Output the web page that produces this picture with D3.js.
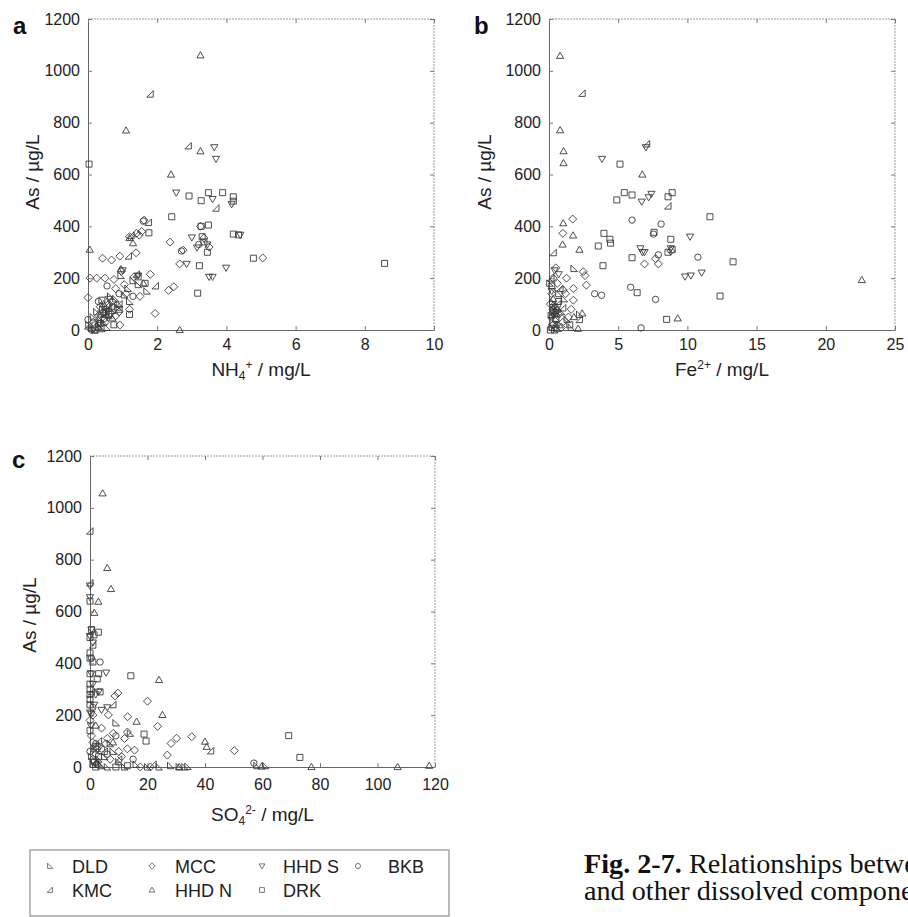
<!DOCTYPE html>
<html>
<head>
<meta charset="utf-8">
<script src="https://cdn.jsdelivr.net/npm/d3@7"></script>
<style>
  html, body { margin: 0; padding: 0; background: #fff; }
  svg { display: block; font-family: "Liberation Sans", Arial, sans-serif; }
</style>
</head>
<body>
<svg id="fig" width="908" height="917"></svg>
<script>
// ---- data: [x, As] pairs ----
const seriesNames = ["DLD", "KMC", "MCC", "HHD N", "HHD S", "DRK", "BKB"];

const asTicks = [0, 200, 400, 600, 800, 1000, 1200];
const nh4Ticks = [0, 2, 4, 6, 8, 10];
const feTicks = [0, 5, 10, 15, 20, 25];
const so4Ticks = [0, 20, 40, 60, 80, 100, 120];

// panel a : NH4+
const nh4DLD = [[0.02,20],[0.1,5],[0.2,0],[0.3,15],[0.35,40],[0.45,30],[0.55,10],[0.6,55],[0.25,70],[0.5,90],[0.7,75],[0.8,120],[0.9,100],[1.05,135],[1.15,160],[1.3,190],[1.45,175],[1.7,150],[0.95,210],[0.4,5],[0.15,50],[0.65,130],[1.2,110],[0.38,62],[0.42,80],[0.52,70],[0.85,88]];
const nh4KMC = [[1.8,910],[2.9,710],[3.7,470],[1.75,415],[1.17,285],[1.25,365],[1.95,170],[0.9,100],[0.5,60],[0.3,30],[0.6,85],[1.4,215],[0.0,15],[0.45,72],[0.55,95]];
const nh4MCC = [[5.05,278],[2.37,339],[2.75,308],[2.65,255],[1.62,424],[1.48,366],[1.39,298],[0.42,277],[0.68,270],[0.92,285],[0.06,200],[0.25,200],[0.49,200],[1.94,64],[0.0,125],[0.92,19],[3.35,355],[3.5,320],[3.25,400],[2.33,153],[2.48,167],[1.4,373],[1.55,380],[1.2,360],[0.97,227],[1.33,205],[1.8,215],[0.8,160],[1.1,140],[0.6,100],[0.35,90],[0.8,55],[1.2,80],[1.5,130],[0.1,0],[0.5,30],[1.05,175],[0.75,195],[0.3,55],[0.65,65],[0.9,70],[0.15,30],[0.7,110]];
const nh4HHDN = [[3.25,1060],[1.1,770],[3.25,690],[2.4,600],[1.2,355],[1.3,335],[2.65,0],[0.05,310],[0.95,235],[0.7,45],[0.3,10],[1.6,180],[0.45,100]];
const nh4HHDS = [[3.65,705],[3.7,660],[2.55,530],[3.6,505],[4.15,485],[4.4,367],[3.99,240],[3.5,205],[3.6,205],[3.15,318],[2.85,255],[3.0,357],[1.0,230],[1.45,210],[0.6,120],[3.45,330]];
const nh4DRK = [[0.03,640],[2.42,437],[2.92,517],[3.27,499],[3.48,530],[3.89,530],[4.2,514],[4.2,497],[3.48,405],[3.27,400],[4.2,370],[4.35,367],[1.76,375],[3.22,248],[3.17,142],[4.78,277],[8.57,257],[3.35,340],[3.45,300],[3.3,360],[1.45,205],[1.65,180],[0.9,80],[0.6,60],[0.2,0],[0.4,115],[1.2,60],[0.75,20],[0.35,25]];
const nh4BKB = [[1.6,420],[2.7,305],[3.2,330],[0.2,20],[0.45,65],[0.7,90],[0.9,140],[1.3,130],[0.55,170],[0.3,110],[0.0,40],[0.48,45]];

// panel b : Fe2+
const feDLD = [[1.8,237],[0.2,10],[0.4,0],[0.6,5],[0.3,30],[0.5,45],[0.8,20],[0.15,55],[0.35,75],[0.6,90],[0.9,70],[1.3,40],[1.6,10],[1.1,120],[0.25,110],[0.05,180],[2.2,60],[0.7,140],[0.45,85],[0.55,65]];
const feKMC = [[2.4,913],[7.06,718],[8.6,478],[0.31,298],[0.2,60],[0.6,100],[0.35,10],[1.0,85],[2.2,40],[0.15,200],[0.8,160]];
const feMCC = [[1.71,428],[1.0,373],[2.47,225],[2.6,210],[2.7,173],[1.27,200],[1.2,140],[1.76,160],[1.03,154],[1.76,115],[7.7,275],[7.9,255],[6.9,255],[0.3,200],[0.6,180],[0.1,100],[0.4,70],[0.7,60],[1.0,30],[0.2,140],[0.5,240],[1.6,80],[0.3,20],[8.8,305],[0.9,10],[1.4,50],[0.35,95],[0.6,75]];
const feHHDN = [[0.8,1058],[0.8,771],[1.05,690],[1.05,644],[6.74,600],[1.03,412],[1.74,365],[0.98,330],[2.2,310],[22.6,193],[9.3,45],[2.1,5],[2.4,64],[1.8,50],[0.3,120],[0.5,20]];
const feHHDS = [[3.83,660],[7.0,705],[6.7,495],[7.2,512],[7.4,525],[10.19,360],[9.83,206],[10.25,210],[11.03,221],[6.6,315],[6.75,300],[8.8,315],[0.4,230],[0.7,215],[0.2,150],[6.9,300]];
const feDRK = [[5.13,640],[4.9,502],[5.44,530],[6.0,521],[8.6,514],[8.9,530],[11.63,437],[3.97,373],[4.4,350],[4.45,335],[3.56,324],[3.9,248],[6.0,279],[6.37,144],[7.59,377],[8.8,350],[8.6,300],[8.9,310],[13.3,263],[12.36,131],[8.5,41],[0.3,70],[0.5,40],[0.1,0],[1.5,20],[0.7,110],[0.2,170]];
const feBKB = [[6.0,424],[7.7,118],[10.76,281],[8.1,409],[6.65,8],[5.9,165],[7.9,290],[3.3,140],[3.8,134],[7.55,370],[0.4,60],[0.25,80]];

// panel c : SO4 2-
const so4DLD = [[31,0],[33,0],[58,5],[61,5],[2,0],[4,5],[6,0],[1,10],[3,30],[5,40],[8,60],[10,20],[12,0],[16,10],[24,0],[28,5],[0.5,40],[7,90],[20,0],[14,130],[34,2],[9,170],[1.5,70],[3,15]];
const so4KMC = [[0,910],[0,710],[42,62],[1,470],[0.5,290],[3,100],[5,60],[10,30],[2,20],[22,10],[8,240]];
const so4MCC = [[20,254],[8.7,274],[9.7,285],[13.1,194],[6.4,201],[8.1,130],[13,135],[23.5,157],[26.9,46],[28.2,91],[30.1,111],[35.4,117],[50.2,63],[12,110],[13,70],[10,60],[0.5,120],[1,200],[0,180],[4,150],[5.5,90],[2,50],[7,30],[3,80],[1,30],[6,110],[15.5,65],[17.5,0],[21,0],[11,40],[1,95],[2.5,70]];
const so4HHDN = [[4.4,1056],[6.0,768],[7.3,687],[2.9,638],[1.5,595],[24,336],[25.2,201],[16.2,175],[40,98],[40.6,78],[31,0],[59.7,2],[77,0],[107,0],[118,5],[2,160],[8,95]];
const so4HHDS = [[5.6,364],[0,700],[0,655],[0.5,530],[0,505],[1,480],[0.5,360],[3,290],[2,280],[1.5,240],[0,210],[0.5,205],[1,320],[6,230],[4,220],[0.3,160]];
const so4DRK = [[0,640],[2.9,520],[1.4,510],[0,500],[0,440],[0,420],[0,360],[0,320],[0,300],[0,280],[0,260],[3,360],[2.5,340],[3.5,290],[14.2,352],[69.1,121],[73,37],[18.8,127],[19.5,100],[0,140],[2,80],[0.5,530],[1,405],[0,240],[13,5],[1.5,20],[3,40],[9,0]];
const so4BKB = [[3.5,405],[57,15],[0.5,420],[1,230],[2,90],[4,70],[6,50],[0,60],[9,120],[15,30],[2.5,10]];

// ---- marker shapes (open symbols) ----
const markerPath = {
  "DLD":   "M-3,-3.5L-3,3L3.5,3Z",
  "KMC":   "M3,-3.5L3,3L-3.5,3Z",
  "MCC":   "M0,-4L4,0L0,4L-4,0Z",
  "HHD N": "M0,-3.6L3.6,2.6L-3.6,2.6Z",
  "HHD S": "M0,3.6L3.6,-2.6L-3.6,-2.6Z",
  "DRK":   "M-3,-3H3V3H-3Z",
  "BKB":   "M3.2,0A3.2,3.2 0 1,1 -3.2,0A3.2,3.2 0 1,1 3.2,0Z"
};

const svg = d3.select("#fig");

function drawPanel(p) {
  const x = d3.scaleLinear().domain(p.xDomain).range([p.left, p.right]);
  const y = d3.scaleLinear().domain([0, 1200]).range([p.bottom, p.top]);

  // frame: top and right drawn lighter / dotted
  svg.append("line").attr("x1", p.left).attr("x2", p.right).attr("y1", p.top).attr("y2", p.top)
    .attr("stroke", "#999").attr("stroke-dasharray", "2,1");
  svg.append("line").attr("x1", p.right).attr("x2", p.right).attr("y1", p.top).attr("y2", p.bottom)
    .attr("stroke", "#999").attr("stroke-dasharray", "2,1");

  const gl = svg.append("g").attr("transform", `translate(${p.left},0)`)
    .call(d3.axisLeft(y).tickValues(asTicks).tickFormat(d3.format("d"))
      .tickSize(-4).tickSizeOuter(0).tickPadding(8));
  const gb = svg.append("g").attr("transform", `translate(0,${p.bottom})`)
    .call(d3.axisBottom(x).tickValues(p.xTicks).tickFormat(d3.format("d"))
      .tickSize(-4).tickSizeOuter(0).tickPadding(p.xPad));
  svg.append("g").attr("transform", `translate(0,${p.top})`)
    .call(d3.axisTop(x).tickValues(p.xTicks).tickSize(-4).tickSizeOuter(0).tickFormat(""))
    .select(".domain").remove();
  svg.append("g").attr("transform", `translate(${p.right},0)`)
    .call(d3.axisRight(y).tickValues(asTicks).tickSize(-4).tickSizeOuter(0).tickFormat(""))
    .select(".domain").remove();

  svg.selectAll(".tick line").attr("stroke", "#777");
  [gl, gb].forEach(g => {
    g.select(".domain").attr("stroke", "#666");
    g.selectAll("text").attr("font-family", "Liberation Sans, Arial, sans-serif")
      .attr("font-size", 16).attr("fill", "#222");
  });

  // points
  seriesNames.forEach(name => {
    svg.append("g").selectAll("path")
      .data(p.data[name])
      .join("path")
      .attr("d", markerPath[name])
      .attr("transform", d => `translate(${x(d[0])},${y(d[1])})`)
      .attr("fill", "none")
      .attr("stroke", "#3a3a3a")
      .attr("stroke-width", 0.9);
  });

  // panel letter
  svg.append("text").attr("x", p.letterX).attr("y", p.letterY)
    .attr("font-size", 24).attr("font-weight", "bold").attr("fill", "#111")
    .text(p.letter);

  // y title
  svg.append("text")
    .attr("transform", `translate(${p.yTitleX},${p.yTitleY}) rotate(-90)`)
    .attr("text-anchor", "middle").attr("font-size", 19).attr("fill", "#222")
    .text("As / µg/L");

  // x title with sub/superscripts
  const t = svg.append("text")
    .attr("x", (p.left + p.right) / 2).attr("y", p.xTitleY)
    .attr("text-anchor", "middle").attr("font-size", 19).attr("fill", "#222");
  p.xTitle.forEach(part => {
    const s = t.append("tspan").text(part.text);
    if (part.dy) s.attr("dy", part.dy);
    if (part.size) s.attr("font-size", part.size);
  });
}

drawPanel({
  left: 88, right: 434, top: 19, bottom: 330, xPad: 9,
  xDomain: [0, 10], xTicks: nh4Ticks,
  data: { "DLD": nh4DLD, "KMC": nh4KMC, "MCC": nh4MCC, "HHD N": nh4HHDN, "HHD S": nh4HHDS, "DRK": nh4DRK, "BKB": nh4BKB },
  letter: "a", letterX: 13, letterY: 34,
  yTitleX: 39, yTitleY: 172, xTitleY: 376,
  xTitle: [{ text: "NH" }, { text: "4", dy: 4, size: 12 }, { text: "+", dy: -11, size: 12 }, { text: " / mg/L", dy: 7 }]
});

drawPanel({
  left: 549, right: 895, top: 19, bottom: 330, xPad: 9,
  xDomain: [0, 25], xTicks: feTicks,
  data: { "DLD": feDLD, "KMC": feKMC, "MCC": feMCC, "HHD N": feHHDN, "HHD S": feHHDS, "DRK": feDRK, "BKB": feBKB },
  letter: "b", letterX: 474, letterY: 34,
  yTitleX: 491, yTitleY: 172, xTitleY: 376,
  xTitle: [{ text: "Fe" }, { text: "2+", dy: -7, size: 12 }, { text: " / mg/L", dy: 7 }]
});

drawPanel({
  left: 90, right: 435, top: 456, bottom: 767, xPad: 12,
  xDomain: [0, 120], xTicks: so4Ticks,
  data: { "DLD": so4DLD, "KMC": so4KMC, "MCC": so4MCC, "HHD N": so4HHDN, "HHD S": so4HHDS, "DRK": so4DRK, "BKB": so4BKB },
  letter: "c", letterX: 12, letterY: 468,
  yTitleX: 36, yTitleY: 615, xTitleY: 821,
  xTitle: [{ text: "SO" }, { text: "4", dy: 4, size: 12 }, { text: "2-", dy: -11, size: 12 }, { text: " / mg/L", dy: 7 }]
});

// ---- legend ----
const legendRows = [
  ["DLD", "MCC", "HHD S", "BKB"],
  ["KMC", "HHD N", "DRK"]
];
const legendColX = [50, 152, 262, 358];
const legendTextX = [72, 175, 283, 388];
const legendRowY = [866, 890];

svg.append("rect").attr("x", 30).attr("y", 850).attr("width", 419).attr("height", 66)
  .attr("fill", "none").attr("stroke", "#777").attr("stroke-width", 1);

legendRows.forEach((row, r) => {
  row.forEach((name, c) => {
    svg.append("path").attr("d", markerPath[name])
      .attr("transform", `translate(${legendColX[c]},${legendRowY[r]}) scale(0.8)`)
      .attr("fill", "none").attr("stroke", "#555").attr("stroke-width", 1);
    svg.append("text").attr("x", legendTextX[c]).attr("y", legendRowY[r] + 7)
      .attr("font-size", 18).attr("fill", "#222").text(name);
  });
});

// ---- caption (runs off the page edge, as in the source) ----
const cap = svg.append("g")
  .attr("font-family", "Liberation Serif, Times New Roman, serif")
  .attr("font-size", 28.2).attr("fill", "#111");
const l1 = cap.append("text").attr("x", 584).attr("y", 873);
l1.append("tspan").attr("font-weight", "bold").text("Fig. 2-7.");
l1.append("tspan").text(" Relationships between As");
cap.append("text").attr("x", 584).attr("y", 900).text("and other dissolved components");
</script>
</body>
</html>
